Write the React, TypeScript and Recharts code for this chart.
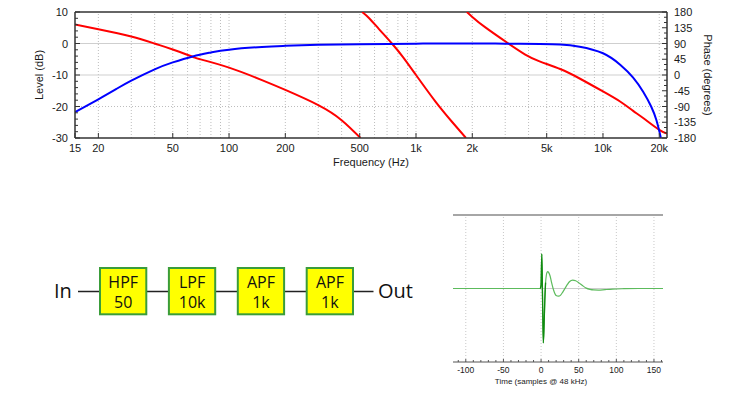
import React from 'react';
import { LineChart, Line, XAxis, YAxis, ReferenceLine } from 'recharts';

const FONT = '"Liberation Sans", Arial, Helvetica, sans-serif';
const DIAGRAM_FONT = '"Open Sans", "Noto Sans", sans-serif';
const AXIS = '#333';
const TEXT = '#1a1a1a';

// ---- frequency response (top plot) ----
const freqTicks = [15, 20, 50, 100, 200, 500, 1000, 2000, 5000, 10000, 20000];
const freqGrid = [
  20, 30, 40, 50, 60, 70, 80, 90, 100, 200, 300, 400, 500, 600, 700, 800, 900,
  1000, 2000, 3000, 4000, 5000, 6000, 7000, 8000, 9000, 10000, 20000,
];
const levelTicks = [-30, -28, -26, -24, -22, -20, -18, -16, -14, -12, -10, -8, -6, -4, -2, 0, 2, 4, 6, 8, 10];
const levelDotted = [-20];
const levelSolid = [0, -10];
const phaseTicks = [
  -180, -165, -150, -135, -120, -105, -90, -75, -60, -45, -30, -15, 0,
  15, 30, 45, 60, 75, 90, 105, 120, 135, 150, 165, 180,
];

// level (dB) - blue
const levelFreq = [15, 20, 25, 30, 40, 50, 64, 80, 100, 150, 200, 300, 500, 1000, 2000, 3000, 4600, 5900, 7500, 10000, 12400, 14500, 16400, 18100, 19300, 20100, 20400];
const levelDb = [-21.8, -17.7, -14.4, -11.8, -8.2, -6.0, -4.1, -2.85, -1.95, -1.1, -0.75, -0.4, -0.2, -0.05, 0, -0.05, -0.15, -0.3, -1.0, -3.1, -6.8, -10.8, -15.3, -20, -24.3, -28.3, -30];

// phase (degrees) - red, wrapped into three segments
const phaseLowFreq = [15, 20, 30, 40, 50, 64, 70, 100, 150, 200, 300, 400, 505];
const phaseLowDeg = [144.5, 131, 110, 90, 73, 52, 45, 21, -14.6, -42.6, -86, -129, -180];
const phaseMidFreq = [515, 560, 632, 743, 850, 1000, 1271, 1565, 1850];
const phaseMidDeg = [180, 163, 132, 90, 52, 0, -76, -135, -180];
const phaseHighFreq = [1870, 2000, 2350, 3120, 3840, 4580, 5900, 7500, 10000, 12400, 14500, 16400, 20000, 22000];
const phaseHighDeg = [180, 166, 136, 90, 58.5, 39, 17, -10, -47, -76.5, -102.6, -123, -157, -167];

// ---- impulse response ----
const timeTicks = [-110, -100, -90, -80, -70, -60, -50, -40, -30, -20, -10, 0, 10, 20, 30, 40, 50, 60, 70, 80, 90, 100, 110, 120, 130, 140, 150, 160];
const timeGrid = [-100, -50, 0, 50, 100, 150];
const impulseSamples = [-117, -1, 0, 1, 2, 3, 4, 5, 6, 7, 8, 9, 10, 12, 14, 16, 18, 20, 23, 26, 29, 32, 35, 38, 42, 46, 50, 55, 60, 65, 70, 76, 85, 95, 110, 130, 162];
const impulseValues = [0, 0, 0.05, 0.47, -0.15, -0.74, -0.5, -0.15, 0.08, 0.18, 0.22, 0.23, 0.22, 0.17, 0.08, 0, -0.06, -0.095, -0.105, -0.09, -0.045, 0.005, 0.055, 0.095, 0.115, 0.105, 0.08, 0.04, 0.005, -0.012, -0.02, -0.022, -0.015, -0.008, -0.003, 0, 0];
const spikeSamples = [-1, 0, 1, 2, 3, 4, 5, 6];
const spikeValues = [0, 0.05, 0.47, -0.15, -0.74, -0.5, -0.15, 0.08];

// ---- block diagram ----
const blockTypes = ['HPF', 'LPF', 'APF', 'APF'];
const blockValues = ['50', '10k', '1k', '1k'];

const zip = (xs: number[], vs: number[]) => xs.map((x, i) => ({ x, v: vs[i] }));

const levelData = zip(levelFreq, levelDb);
const phaseLow = zip(phaseLowFreq, phaseLowDeg);
const phaseMid = zip(phaseMidFreq, phaseMidDeg);
const phaseHigh = zip(phaseHighFreq, phaseHighDeg);
const impulseData = zip(impulseSamples, impulseValues);
const spikeData = zip(spikeSamples, spikeValues);

const fmtFreq = (v: number) => (v >= 1000 ? `${v / 1000}k` : `${v}`);

function FreqTick({ x, y, payload }: any) {
  return (
    <g>
      <line x1={x} y1={y} x2={x} y2={y - 5} stroke={AXIS} />
      <text x={x} y={y + 14} textAnchor="middle" fontSize={11} fill={TEXT} fontFamily={FONT}>
        {fmtFreq(payload.value)}
      </text>
    </g>
  );
}

function LevelTick({ x, y, payload }: any) {
  const major = payload.value % 10 === 0;
  return (
    <g>
      <line x1={x} y1={y} x2={x + (major ? 5 : 3)} y2={y} stroke={AXIS} />
      {major && (
        <text x={x - 7} y={y + 4} textAnchor="end" fontSize={11} fill={TEXT} fontFamily={FONT}>
          {payload.value}
        </text>
      )}
    </g>
  );
}

function PhaseTick({ x, y, payload }: any) {
  const major = payload.value % 45 === 0;
  return (
    <g>
      <line x1={x} y1={y} x2={x - (major ? 5 : 3)} y2={y} stroke={AXIS} />
      {major && (
        <text x={x + 7} y={y + 4} textAnchor="start" fontSize={11} fill={TEXT} fontFamily={FONT}>
          {payload.value}
        </text>
      )}
    </g>
  );
}

function TimeTick({ x, y, payload }: any) {
  const major = payload.value % 50 === 0;
  return (
    <g>
      <line x1={x} y1={y} x2={x} y2={y - (major ? 3 : 2)} stroke="#555" />
      {major && (
        <text x={x} y={y + 11} textAnchor="middle" fontSize={8.5} fill={TEXT} fontFamily={FONT}>
          {payload.value}
        </text>
      )}
    </g>
  );
}

// axis title; dx = offset from the axis box's left edge (null = centred), dy likewise from the top
const title = (text: string, dx: number | null, dy: number | null, angle: number, size = 11) => (props: any) => {
  const vb = props.viewBox || { x: 0, y: 0, width: 0, height: 0 };
  const cx = dx === null ? vb.x + vb.width / 2 : vb.x + dx;
  const cy = dy === null ? vb.y + vb.height / 2 : vb.y + dy;
  return (
    <text
      x={cx}
      y={cy}
      textAnchor="middle"
      dominantBaseline="central"
      fontSize={size}
      fill={TEXT}
      fontFamily={FONT}
      transform={angle ? `rotate(${angle} ${cx} ${cy})` : undefined}
    >
      {text}
    </text>
  );
};

function FrequencyResponse() {
  return (
    <LineChart width={750} height={175} margin={{ top: 12, right: 0, bottom: 0, left: 0 }}>
      <XAxis
        type="number"
        dataKey="x"
        scale="log"
        domain={[15, 22000]}
        allowDataOverflow
        ticks={freqTicks}
        interval={0}
        height={37}
        tickSize={0}
        tickMargin={0}
        tickLine={false}
        axisLine={{ stroke: AXIS, strokeWidth: 1.5 }}
        tick={<FreqTick />}
        label={title('Frequency (Hz)', null, 24, 0)}
      />
      <YAxis
        yAxisId="db"
        type="number"
        domain={[-30, 10]}
        allowDataOverflow
        ticks={levelTicks}
        interval={0}
        width={75}
        tickSize={0}
        tickMargin={0}
        tickLine={false}
        axisLine={{ stroke: AXIS, strokeWidth: 1.5 }}
        tick={<LevelTick />}
        label={title('Level (dB)', 39, null, -90)}
      />
      <YAxis
        yAxisId="ph"
        orientation="right"
        type="number"
        domain={[-180, 180]}
        allowDataOverflow
        ticks={phaseTicks}
        interval={0}
        width={83}
        tickSize={0}
        tickMargin={0}
        tickLine={false}
        axisLine={{ stroke: AXIS, strokeWidth: 1.5 }}
        tick={<PhaseTick />}
        label={title('Phase (degrees)', 41, null, 90)}
      />
      {freqGrid.map((f) => (
        <ReferenceLine key={`g${f}`} x={f} yAxisId="db" stroke="#bdbdbd" strokeDasharray="1 2" />
      ))}
      {levelDotted.map((d) => (
        <ReferenceLine key={`d${d}`} y={d} yAxisId="db" stroke="#bdbdbd" strokeDasharray="1 2" />
      ))}
      {levelSolid.map((d) => (
        <ReferenceLine key={`s${d}`} y={d} yAxisId="db" stroke="#cfcfcf" />
      ))}
      <ReferenceLine y={10} yAxisId="db" stroke={AXIS} strokeWidth={1.5} />
      <Line yAxisId="ph" data={phaseLow} dataKey="v" type="natural" stroke="#ff0000" strokeWidth={2} dot={false} activeDot={false} isAnimationActive={false} />
      <Line yAxisId="ph" data={phaseMid} dataKey="v" type="natural" stroke="#ff0000" strokeWidth={2} dot={false} activeDot={false} isAnimationActive={false} />
      <Line yAxisId="ph" data={phaseHigh} dataKey="v" type="natural" stroke="#ff0000" strokeWidth={2} dot={false} activeDot={false} isAnimationActive={false} />
      <Line yAxisId="db" data={levelData} dataKey="v" type="natural" stroke="#0000ff" strokeWidth={2} dot={false} activeDot={false} isAnimationActive={false} />
    </LineChart>
  );
}

function ImpulseResponse() {
  return (
    <LineChart width={240} height={200} margin={{ top: 15, right: 17, bottom: 0, left: 13 }}>
      <XAxis
        type="number"
        dataKey="x"
        domain={[-117, 162]}
        allowDataOverflow
        ticks={timeTicks}
        interval={0}
        height={38}
        tickSize={0}
        tickMargin={0}
        tickLine={false}
        axisLine={{ stroke: '#555' }}
        tick={<TimeTick />}
        label={title('Time (samples @ 48 kHz)', 88, 19, 0, 8)}
      />
      <YAxis type="number" domain={[-1, 1]} allowDataOverflow hide />
      {timeGrid.map((t) => (
        <ReferenceLine key={t} x={t} stroke="#c8c8c8" strokeDasharray="1 2" />
      ))}
      <ReferenceLine y={0} stroke="#cccccc" />
      <ReferenceLine y={1} stroke="#888888" strokeWidth={1.5} />
      <Line data={impulseData} dataKey="v" type="monotone" stroke="#5cbb5c" strokeWidth={1.2} dot={false} activeDot={false} isAnimationActive={false} />
      <Line data={spikeData} dataKey="v" type="monotone" stroke="#108a10" strokeWidth={1.3} dot={false} activeDot={false} isAnimationActive={false} />
    </LineChart>
  );
}

function BlockDiagram() {
  return (
    <svg width={750} height={400} style={{ position: 'absolute', left: 0, top: 0 }}>
      <line x1={78} y1={291.5} x2={373.5} y2={291.5} stroke="#222" strokeWidth={1.5} />
      <text x={54} y={298} fontSize={20} fill="#111" fontFamily={DIAGRAM_FONT}>In</text>
      {blockTypes.map((t, i) => {
        const bx = 100 + i * 68.9;
        return (
          <g key={i}>
            <rect x={bx} y={268} width={46.3} height={46.3} fill="#ffff00" stroke="#3a9d3a" strokeWidth={2} />
            <text x={bx + 23.2} y={288} textAnchor="middle" fontSize={16} fill="#111" fontFamily={DIAGRAM_FONT}>{t}</text>
            <text x={bx + 23.2} y={308} textAnchor="middle" fontSize={16} fill="#111" fontFamily={DIAGRAM_FONT}>{blockValues[i]}</text>
          </g>
        );
      })}
      <text x={378} y={298} fontSize={20} fill="#111" fontFamily={DIAGRAM_FONT}>Out</text>
    </svg>
  );
}

export default function App() {
  return (
    <div style={{ position: 'absolute', left: 0, top: 0, width: 750, height: 400, background: '#fff', overflow: 'hidden' }}>
      <BlockDiagram />
      <div style={{ position: 'absolute', left: 0, top: 0 }}>
        <FrequencyResponse />
      </div>
      <div style={{ position: 'absolute', left: 440, top: 200 }}>
        <ImpulseResponse />
      </div>
    </div>
  );
}
